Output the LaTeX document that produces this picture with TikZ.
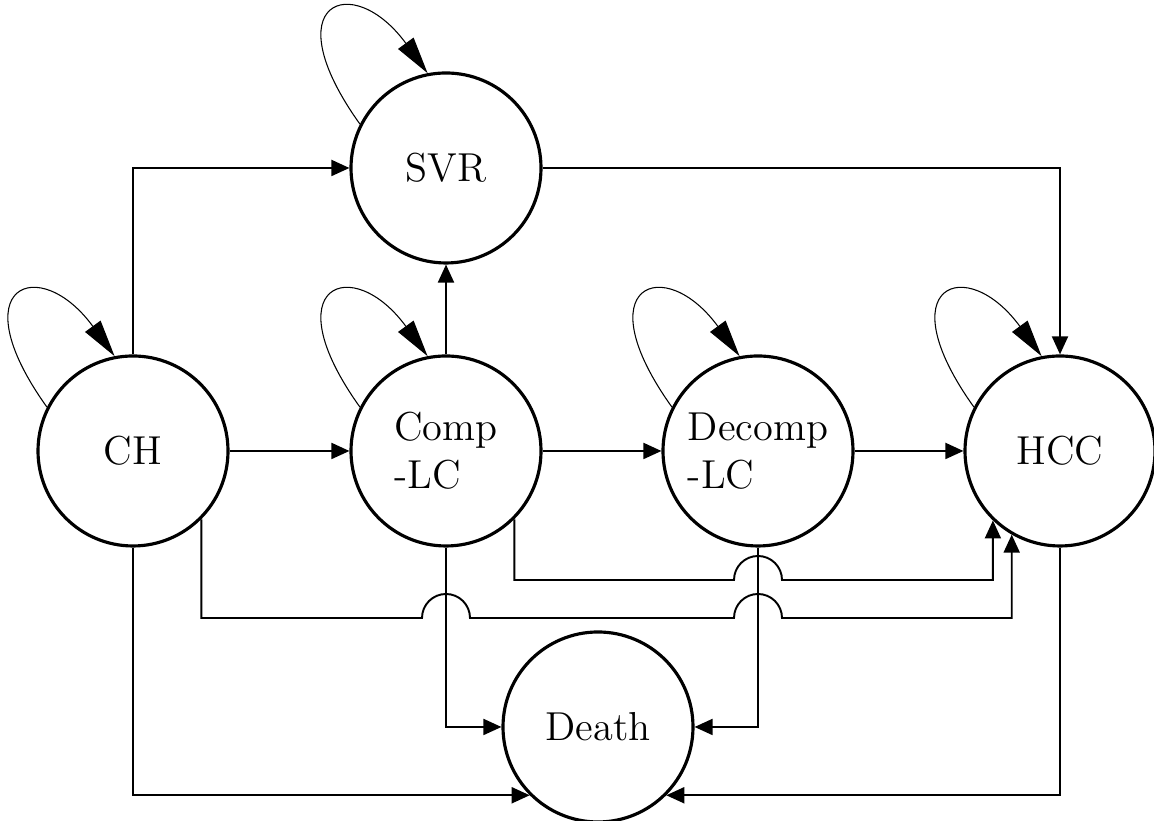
\documentclass[tikz,border=0pt]{standalone}
\usepackage{tikz}
\usetikzlibrary{arrows.meta,calc}
\tikzset{
  mkvstate/.style={draw, circle, line width=0.9pt, minimum size=1.9cm, inner sep=0pt, align=left, font=\fontsize{11.5}{13.7}\selectfont},
  mkvarrow/.style={-{Triangle[length=1.8mm,width=1.6mm]}, line width=0.55pt},
  mkvloop/.style={-{Triangle[length=3.7mm,width=1.9mm]}, line width=0.3pt}
}

\begin{document}
\begin{tikzpicture}
\useasboundingbox (0,0) rectangle (11.54,8.21);
% states
\node[mkvstate] (svr) at (4.46,6.53) {SVR};
\node[mkvstate] (ch) at (1.33,3.70) {CH};
\node[mkvstate] (comp) at (4.46,3.70) {Comp\\-LC};
\node[mkvstate] (decomp) at (7.58,3.70) {Decomp\\-LC};
\node[mkvstate] (hcc) at (10.60,3.70) {HCC};
\node[mkvstate] (death) at (5.98,0.94) {Death};

% self loops
\foreach \s in {svr,ch,comp,decomp,hcc}
  \draw[mkvloop] (\s.153) .. controls +(-0.88,1.23) and +(-0.75,1.03) .. (\s.101);

% lanes for the crossing lines
\coordinate (laneA) at (0,2.41);
\coordinate (laneB) at (0,2.03);

% transitions
\draw[mkvarrow] (ch.east) -- (comp.west);
\draw[mkvarrow] (comp.east) -- (decomp.west);
\draw[mkvarrow] (decomp.east) -- (hcc.west);
\draw[mkvarrow] (comp.north) -- (svr.south);
\draw[mkvarrow] (ch.north) |- (svr.west);
\draw[mkvarrow] (svr.east) -| (hcc.north);
\draw[mkvarrow] (comp.south) |- (death.west);
\draw[mkvarrow] (decomp.south) |- (death.east);
\draw[mkvarrow] (ch.south) |- (death.-135);
\draw[mkvarrow] (hcc.south) |- (death.-45);

% lines that jump over others
\draw[mkvarrow] (comp.-45) |- ($(decomp.south |- laneA)+(-0.24,0)$)
  arc[start angle=180,end angle=0,radius=0.24] -| (hcc.-134);
\draw[mkvarrow] (ch.-45) |- ($(comp.south |- laneB)+(-0.24,0)$)
  arc[start angle=180,end angle=0,radius=0.24]
  -- ($(decomp.south |- laneB)+(-0.24,0)$)
  arc[start angle=180,end angle=0,radius=0.24] -| (hcc.-120);
\end{tikzpicture}
\end{document}
